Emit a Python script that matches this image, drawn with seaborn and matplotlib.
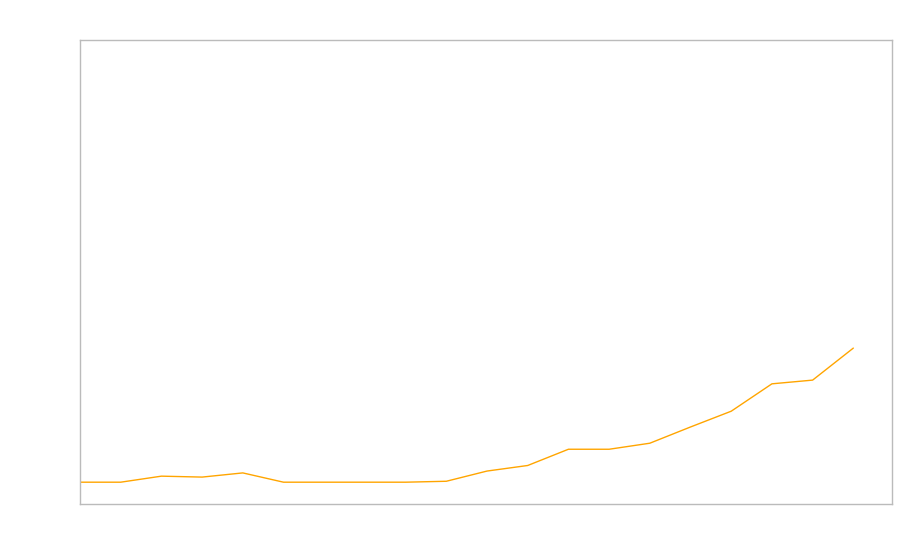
import pandas as pd
import seaborn as sns
import matplotlib
matplotlib.use("Agg")
import matplotlib.pyplot as plt

# values (axis runs 0..100, no labels shown)
steps = list(range(20))
values = [4.7, 4.7, 6.0, 5.8, 6.7, 4.7, 4.7, 4.7, 4.7, 4.9,
          7.1, 8.3, 11.8, 11.8, 13.1, 16.6, 20.0, 25.9, 26.7, 33.6]

df = pd.DataFrame({"step": steps, "value": values})

sns.set_style("white")

fig = plt.figure(figsize=(9, 5.6), dpi=100)
ax = fig.add_axes([80 / 900, 56 / 560, 812 / 900, 464 / 560])

sns.lineplot(data=df, x="step", y="value", color="#FFA500", linewidth=1, ax=ax)

ax.set_xlim(0, 19.95)
ax.set_ylim(0, 100)
ax.set_xticks([])
ax.set_yticks([])
ax.set_xlabel("")
ax.set_ylabel("")
for spine in ax.spines.values():
    spine.set_color("#bbbbbb")
    spine.set_linewidth(1)

fig.savefig("out.png", dpi=100)
